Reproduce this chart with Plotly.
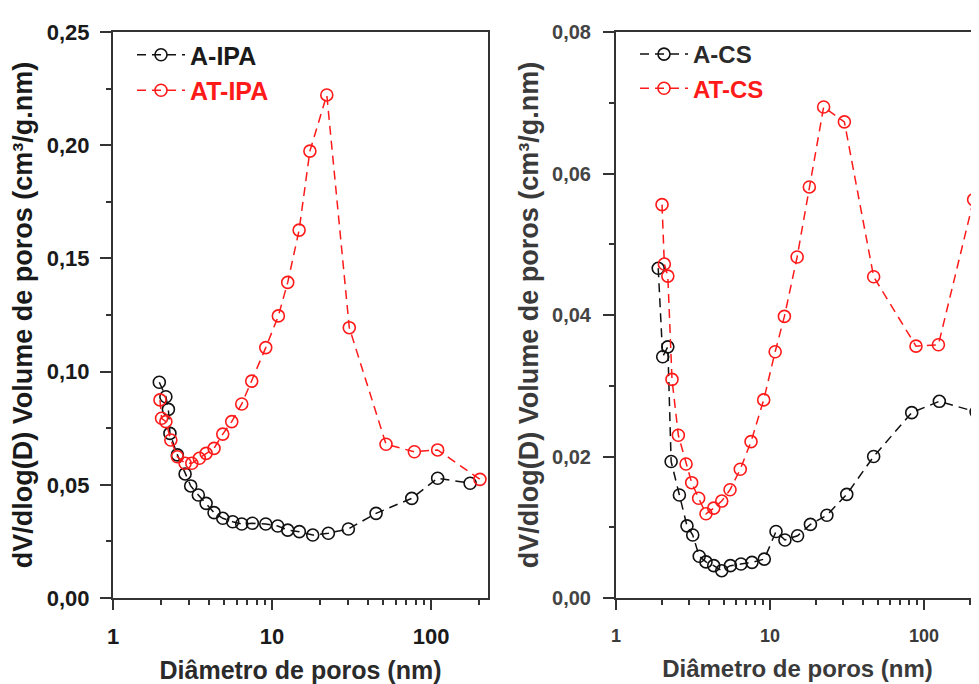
import plotly.graph_objects as go

# ---- data ----
a_ipa_x = [1.955, 2.15, 2.23, 2.28, 2.54, 2.84, 3.08, 3.44, 3.85, 4.32, 4.90, 5.66, 6.45, 7.52, 9.13,
           10.86, 12.55, 14.85, 18.03, 22.6, 30.2, 45.1, 75.6, 110, 176]
a_ipa_y = [0.0953, 0.0889, 0.0833, 0.0727, 0.0632, 0.0548, 0.0495, 0.0455, 0.0418, 0.0377, 0.0352,
           0.0337, 0.0327, 0.0330, 0.0327, 0.0318, 0.0300, 0.0293, 0.0278, 0.0286, 0.0305, 0.0374,
           0.0440, 0.0529, 0.0507]

at_ipa_x = [1.975, 2.02, 2.15, 2.31, 2.54, 2.84, 3.13, 3.49, 3.85, 4.32, 4.90, 5.58, 6.45, 7.45, 9.13,
            10.96, 12.55, 14.8, 17.3, 22.1, 30.6, 52.1, 78.5, 110, 203]
at_ipa_y = [0.0875, 0.0794, 0.0779, 0.0698, 0.0624, 0.0595, 0.0595, 0.0617, 0.0639, 0.0661, 0.0724,
            0.0779, 0.0857, 0.0958, 0.1106, 0.1246, 0.1394, 0.1625, 0.1974, 0.2222, 0.1194, 0.0679,
            0.0646, 0.0654, 0.0524]

a_cs_x = [1.88, 2.01, 2.17, 2.28, 2.58, 2.89, 3.15, 3.47, 3.84, 4.31, 4.86, 5.53, 6.48, 7.64, 9.18,
          10.94, 12.5, 15.1, 18.3, 23.4, 31.5, 47.1, 83.2, 125.7, 218]
a_cs_y = [0.0466, 0.0341, 0.0355, 0.0193, 0.01456, 0.0102, 0.0089, 0.0059, 0.0051, 0.00457, 0.00386,
          0.00457, 0.0048, 0.00504, 0.0055, 0.0094, 0.0082, 0.0088, 0.0104, 0.0117, 0.01465, 0.0200,
          0.0262, 0.0278, 0.0263]

at_cs_x = [1.99, 2.06, 2.17, 2.31, 2.54, 2.85, 3.10, 3.44, 3.84, 4.31, 4.86, 5.50, 6.41, 7.53, 9.10,
           10.8, 12.4, 15.0, 18.0, 22.3, 30.4, 47.1, 88.7, 124, 210]
at_cs_y = [0.0556, 0.0472, 0.0455, 0.0309, 0.0230, 0.01894, 0.0163, 0.0141, 0.0119, 0.0127, 0.0137,
           0.0153, 0.0182, 0.0221, 0.0280, 0.0348, 0.0398, 0.0482, 0.0581, 0.0694, 0.0673, 0.0454,
           0.0356, 0.0358, 0.0563]

x_tickvals = [1, 10, 100]
x_ticktext = ["1", "10", "100"]
x_title = "Diâmetro de poros (nm)"
y_title = "dV/dlog(D) Volume de poros (cm³/g.nm)"

FONT = "Liberation Sans, Arial, sans-serif"
RED = "#ff1a1a"
BLACK = "#111111"
AX = "#333333"

fig = go.Figure()

def add(x, y, name, color, xa, ya, leg):
    fig.add_trace(go.Scatter(
        x=x, y=y, name=name, mode="lines+markers", xaxis=xa, yaxis=ya, legend=leg,
        line=dict(color=color, width=1.5, dash="9px,6px"),
        marker=dict(symbol="circle-open", size=12, color=color, line=dict(width=1.6, color=color)),
    ))

add(a_ipa_x, a_ipa_y, "<b>A-IPA</b>", BLACK, "x", "y", "legend")
add(at_ipa_x, at_ipa_y, f"<b><span style='color:{RED}'>AT-IPA</span></b>", RED, "x", "y", "legend")
add(a_cs_x, a_cs_y, "<b>A-CS</b>", BLACK, "x2", "y2", "legend2")
add(at_cs_x, at_cs_y, f"<b><span style='color:{RED}'>AT-CS</span></b>", RED, "x2", "y2", "legend2")

# page body has an 8px default margin: size the figure so it ends at the window edge
OFF = 8
W, H = 979 - OFF, 684 - OFF
ML, MR, MT, MB = 113 - OFF, 0, 32 - OFF, 86
PW = W - ML - MR

def px(xpix):
    # xpix in screenshot pixels -> paper fraction
    return (xpix - OFF - ML) / PW

common_x = dict(type="log", showgrid=False, zeroline=False, showline=True, linecolor=AX, linewidth=2,
                mirror=True, ticks="outside", ticklen=10, tickwidth=2, tickcolor=AX,
                tickvals=x_tickvals, ticktext=x_ticktext,
                minor=dict(ticks="outside", ticklen=5, tickwidth=1.5, tickcolor=AX, dtick="D1", showgrid=False))
common_y = dict(showgrid=False, zeroline=False, showline=True, linecolor=AX, linewidth=2,
                ticks="outside", ticklen=11, tickwidth=2, tickcolor=AX, tickformat=".2f")

fig.update_layout(
    width=W, height=H,
    margin=dict(l=ML, r=MR, t=MT, b=MB, pad=0, autoexpand=False),
    paper_bgcolor="white", plot_bgcolor="white",
    separators=",.",
    showlegend=True,
    xaxis=dict(common_x, domain=[0, px(488)], range=[0, 2.358], anchor="y", automargin=False,
               tickfont=dict(family=FONT, size=22, weight="bold", color="#1a1a1a"),
               ticklabelstandoff=8,
               title=dict(text=x_title, font=dict(family=FONT, size=25, weight="bold", color="#2a2a2a"), standoff=16)),
    yaxis=dict(common_y, domain=[0, 1], range=[0, 0.25], anchor="x", mirror=True, dtick=0.05, automargin=False,
               minor=dict(ticks="outside", ticklen=5, tickwidth=1.5, tickcolor=AX, dtick=0.025),
               tickfont=dict(family=FONT, size=22, weight="bold", color="#1a1a1a"),
               ticklabelstandoff=6,
               title=dict(text=y_title, font=dict(family=FONT, size=27, weight="bold", color="#1a1a1a"), standoff=6)),
    xaxis2=dict(common_x, domain=[px(616), 1], range=[0, 2.357], anchor="y2", automargin=False,
                tickfont=dict(family=FONT, size=18, weight="bold", color="#3a3a3a"),
                ticklabelstandoff=10,
                title=dict(text=x_title, font=dict(family=FONT, size=24, weight="bold", color="#3a3a3a"), standoff=16)),
    yaxis2=dict(common_y, domain=[0, 1], range=[0, 0.08], anchor="x2", mirror=False, dtick=0.02, automargin=False,
                minor=dict(ticks="outside", ticklen=5, tickwidth=1.5, tickcolor=AX, dtick=0.01),
                tickfont=dict(family=FONT, size=20, weight="bold", color="#444444"),
                ticklabelstandoff=8,
                title=dict(text=y_title, font=dict(family=FONT, size=27, weight="bold", color="#3a3a3a"), standoff=6)),
    legend=dict(x=px(132), y=1.0, xanchor="left", yanchor="top", bgcolor="rgba(0,0,0,0)",
                font=dict(family=FONT, size=25, color="#1a1a1a"), itemwidth=48,
                tracegroupgap=0),
    legend2=dict(x=px(635), y=1.0, xanchor="left", yanchor="top", bgcolor="rgba(0,0,0,0)",
                 font=dict(family=FONT, size=24, color="#2a2a2a"), itemwidth=48,
                 tracegroupgap=0),
)

fig.write_html("out.html")
